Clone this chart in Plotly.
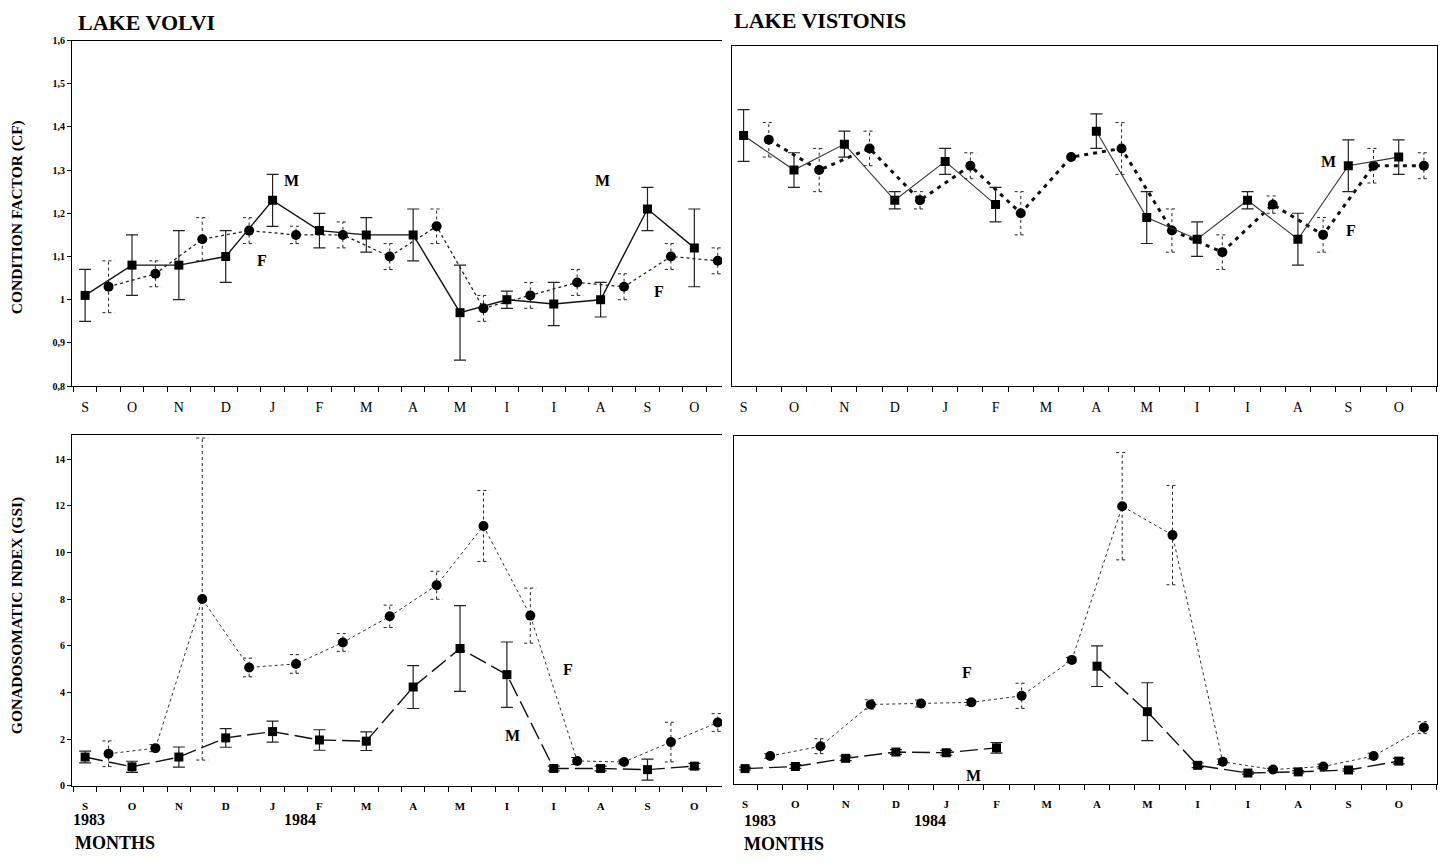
import plotly.graph_objects as go

W, H = 1445, 867

# ---------------- data ----------------
months = ["S", "O", "N", "D", "J", "F", "M", "A", "M", "I", "I", "A", "S", "O"]
month_pos = list(range(14))
male_x = [0, 1, 2, 3, 4, 5, 6, 7, 8, 9, 10, 11, 12, 13]
female_x = [0.5, 1.5, 2.5, 3.5, 4.5, 5.5, 6.5, 7.5, 8.5, 9.5, 10.5, 11.5, 12.5, 13.5]

# Lake Volvi - condition factor
cf_volvi_m = [1.01, 1.08, 1.08, 1.10, 1.23, 1.16, 1.15, 1.15, 0.97, 1.00, 0.99, 1.00, 1.21, 1.12]
cf_volvi_m_err = [0.06, 0.07, 0.08, 0.06, 0.06, 0.04, 0.04, 0.06, 0.11, 0.02, 0.05, 0.04, 0.05, 0.09]
cf_volvi_f = [1.03, 1.06, 1.14, 1.16, 1.15, 1.15, 1.10, 1.17, 0.98, 1.01, 1.04, 1.03, 1.10, 1.09]
cf_volvi_f_err = [0.06, 0.03, 0.05, 0.03, 0.02, 0.03, 0.03, 0.04, 0.03, 0.03, 0.03, 0.03, 0.03, 0.03]

# Lake Vistonis - condition factor (no male sample in March)
cf_vist_m = [1.38, 1.30, 1.36, 1.23, 1.32, 1.22, None, 1.39, 1.19, 1.14, 1.23, 1.14, 1.31, 1.33]
cf_vist_m_err = [0.06, 0.04, 0.03, 0.02, 0.03, 0.04, 0, 0.04, 0.06, 0.04, 0.02, 0.06, 0.06, 0.04]
cf_vist_f = [1.37, 1.30, 1.35, 1.23, 1.31, 1.20, 1.33, 1.35, 1.16, 1.11, 1.22, 1.15, 1.31, 1.31]
cf_vist_f_err = [0.04, 0.05, 0.04, 0.02, 0.03, 0.05, 0.0, 0.06, 0.05, 0.04, 0.02, 0.04, 0.04, 0.03]

# Lake Volvi - gonadosomatic index
gsi_volvi_m = [1.24, 0.82, 1.24, 2.06, 2.33, 1.97, 1.92, 4.24, 5.89, 4.77, 0.75, 0.75, 0.70, 0.85]
gsi_volvi_m_err = [0.25, 0.24, 0.43, 0.40, 0.45, 0.44, 0.40, 0.92, 1.84, 1.40, 0.10, 0.10, 0.45, 0.12]
gsi_volvi_f = [1.38, 1.62, 8.01, 5.08, 5.23, 6.15, 7.27, 8.60, 11.14, 7.30, 1.07, 1.03, 1.88, 2.72]
gsi_volvi_f_err = [0.55, 0.15, 6.90, 0.40, 0.40, 0.38, 0.48, 0.60, 1.52, 1.18, 0.15, 0.08, 0.85, 0.38]

# Lake Vistonis - gonadosomatic index (no male sample in March)
gsi_vist_m = [0.66, 0.75, 1.10, 1.37, 1.34, 1.55, None, 5.05, 3.10, 0.80, 0.47, 0.52, 0.60, 0.98]
gsi_vist_m_err = [0.06, 0.08, 0.10, 0.10, 0.10, 0.23, 0, 0.87, 1.24, 0.10, 0.05, 0.05, 0.05, 0.12]
gsi_vist_f = [1.20, 1.62, 3.41, 3.45, 3.50, 3.78, 5.32, 11.91, 10.67, 0.95, 0.62, 0.75, 1.20, 2.42]
gsi_vist_f_err = [0.10, 0.32, 0.20, 0.15, 0.12, 0.54, 0.10, 2.30, 2.13, 0.12, 0.05, 0.10, 0.12, 0.25]

FONT = "Liberation Serif"


def dom_x(a, b):
    return [a / W, b / W]


def dom_y(top, bottom):
    return [1 - bottom / H, 1 - top / H]


fig = go.Figure()


def err_segments(xs, ys, es, cap):
    sx, sy = [], []
    for x, y, e in zip(xs, ys, es):
        if y is None or not e:
            continue
        lo, hi = y - e, y + e
        sx += [x, x, None, x - cap, x + cap, None, x - cap, x + cap, None]
        sy += [lo, hi, None, hi, hi, None, lo, lo, None]
    return sx, sy


def add_panel(idx, m_y, m_err, f_y, f_err, m_line, f_line, cap):
    xa = "x" if idx == 1 else f"x{idx}"
    ya = "y" if idx == 1 else f"y{idx}"
    ex, ey = err_segments(female_x, f_y, f_err, cap)
    fig.add_trace(go.Scatter(x=ex, y=ey, mode="lines", xaxis=xa, yaxis=ya,
                             line=dict(color="#222", width=1, dash="dot"),
                             hoverinfo="skip", showlegend=False))
    fig.add_trace(go.Scatter(x=female_x, y=f_y, mode="lines+markers", xaxis=xa, yaxis=ya,
                             line=f_line, marker=dict(symbol="circle", size=10, color="black"),
                             name="F", showlegend=False))
    fig.add_trace(go.Scatter(x=male_x, y=m_y, mode="lines+markers", xaxis=xa, yaxis=ya,
                             line=m_line, connectgaps=False,
                             marker=dict(symbol="square", size=9, color="black"),
                             error_y=dict(type="data", array=m_err, visible=True,
                                          color="#222", thickness=1.2, width=6),
                             name="M", showlegend=False))


add_panel(1, cf_volvi_m, cf_volvi_m_err, cf_volvi_f, cf_volvi_f_err,
          dict(color="#111", width=1.4), dict(color="#222", width=1.3, dash="dot"), 0.13)
add_panel(2, cf_vist_m, cf_vist_m_err, cf_vist_f, cf_vist_f_err,
          dict(color="#333", width=1.1), dict(color="#111", width=3, dash="4px,5px"), 0.12)
add_panel(3, gsi_volvi_m, gsi_volvi_m_err, gsi_volvi_f, gsi_volvi_f_err,
          dict(color="#111", width=1.4, dash="18px,6px"), dict(color="#333", width=1, dash="dot"), 0.13)
add_panel(4, gsi_vist_m, gsi_vist_m_err, gsi_vist_f, gsi_vist_f_err,
          dict(color="#111", width=1.4, dash="18px,6px"), dict(color="#333", width=1, dash="dot"), 0.12)

minor_vals = [-0.25 + 0.5 * k for k in range(29)]


def xaxis_cfg(domain, rng, anchor, fsize, bold, mirror, standoff):
    return dict(domain=domain, range=rng, anchor=anchor,
                tickmode="array", tickvals=month_pos, ticktext=months,
                ticks="", ticklabelstandoff=standoff,
                tickfont=dict(family=FONT, size=fsize, color="black",
                              weight="bold" if bold else "normal"),
                minor=dict(tickmode="array", tickvals=minor_vals, ticks="outside",
                           ticklen=5, tickcolor="black", tickwidth=1, showgrid=False),
                showline=True, linecolor="black", linewidth=1, mirror=mirror,
                showgrid=False, zeroline=False)


def yaxis_cfg(domain, rng, anchor, dtick, labels, mirror):
    return dict(domain=domain, range=rng, anchor=anchor, dtick=dtick, tick0=0,
                ticks="outside" if labels else "", ticklen=4, tickcolor="black",
                showticklabels=labels,
                tickfont=dict(family=FONT, size=10, color="black", weight="bold"),
                showline=True, linecolor="black", linewidth=1, mirror=mirror,
                showgrid=False, zeroline=False)


fig.update_layout(
    width=W, height=H, margin=dict(l=0, r=0, t=0, b=0),
    paper_bgcolor="white", plot_bgcolor="white",
    separators=", ",
    font=dict(family=FONT, color="black"),
    xaxis=xaxis_cfg(dom_x(72, 722), [-0.28, 13.59], "y", 14, False, True, 8),
    yaxis=yaxis_cfg(dom_y(36, 386), [0.8, 1.6], "x", 0.1, True, False),
    xaxis2=xaxis_cfg(dom_x(732, 1437), [-0.23, 13.76], "y2", 14, False, True, 8),
    yaxis2=yaxis_cfg(dom_y(42, 386), [0.8, 1.586], "x2", 0.1, False, True),
    xaxis3=xaxis_cfg(dom_x(72, 722), [-0.28, 13.59], "y3", 11, True, True, 10),
    yaxis3=yaxis_cfg(dom_y(436, 791), [0, 15.02], "x3", 2, True, False),
    xaxis4=xaxis_cfg(dom_x(734, 1437), [-0.22, 13.76], "y4", 11, True, True, 10),
    yaxis4=yaxis_cfg(dom_y(437, 789), [0, 14.9], "x4", 2, False, True),
)


def ann_px(text, x, y, size, xanchor="left", angle=0):
    fig.add_annotation(text=text, x=x / W, y=1 - y / H, xref="paper", yref="paper",
                       xanchor=xanchor, yanchor="middle", showarrow=False, textangle=angle,
                       font=dict(family=FONT, size=size, color="black", weight="bold"))


def ann_data(text, x, y, xa, ya, size=16):
    fig.add_annotation(text=text, x=x, y=y, xref=xa, yref=ya, showarrow=False,
                       font=dict(family=FONT, size=size, color="black", weight="bold"))


ann_px("LAKE VOLVI", 76, 18, 22)
ann_px("LAKE VISTONIS", 732, 16, 22)
ann_px("CONDITION FACTOR (CF)", 17, 215, 15.5, xanchor="center", angle=-90)
ann_px("GONADOSOMATIC INDEX (GSI)", 17, 619, 15.5, xanchor="center", angle=-90)
ann_px("1983", 71, 825, 16)
ann_px("1984", 282, 825, 16)
ann_px("MONTHS", 73, 849, 18)
ann_px("1983", 742, 826, 16)
ann_px("1984", 912, 826, 16)
ann_px("MONTHS", 742, 850, 18)

ann_data("M", 4.41, 1.275, "x", "y")
ann_data("F", 3.77, 1.09, "x", "y")
ann_data("M", 11.05, 1.275, "x", "y")
ann_data("F", 12.25, 1.02, "x", "y")
ann_data("M", 11.6, 1.32, "x2", "y2")
ann_data("F", 12.05, 1.16, "x2", "y2")
ann_data("F", 10.3, 4.98, "x3", "y3")
ann_data("M", 9.11, 2.16, "x3", "y3")
ann_data("F", 4.41, 4.77, "x4", "y4")
ann_data("M", 4.55, 0.38, "x4", "y4")

fig.write_html(
    "out.html",
    config={"displayModeBar": False},
    post_script="document.body.style.margin='0';document.body.style.padding='0';"
                "document.body.style.overflow='hidden';",
)
